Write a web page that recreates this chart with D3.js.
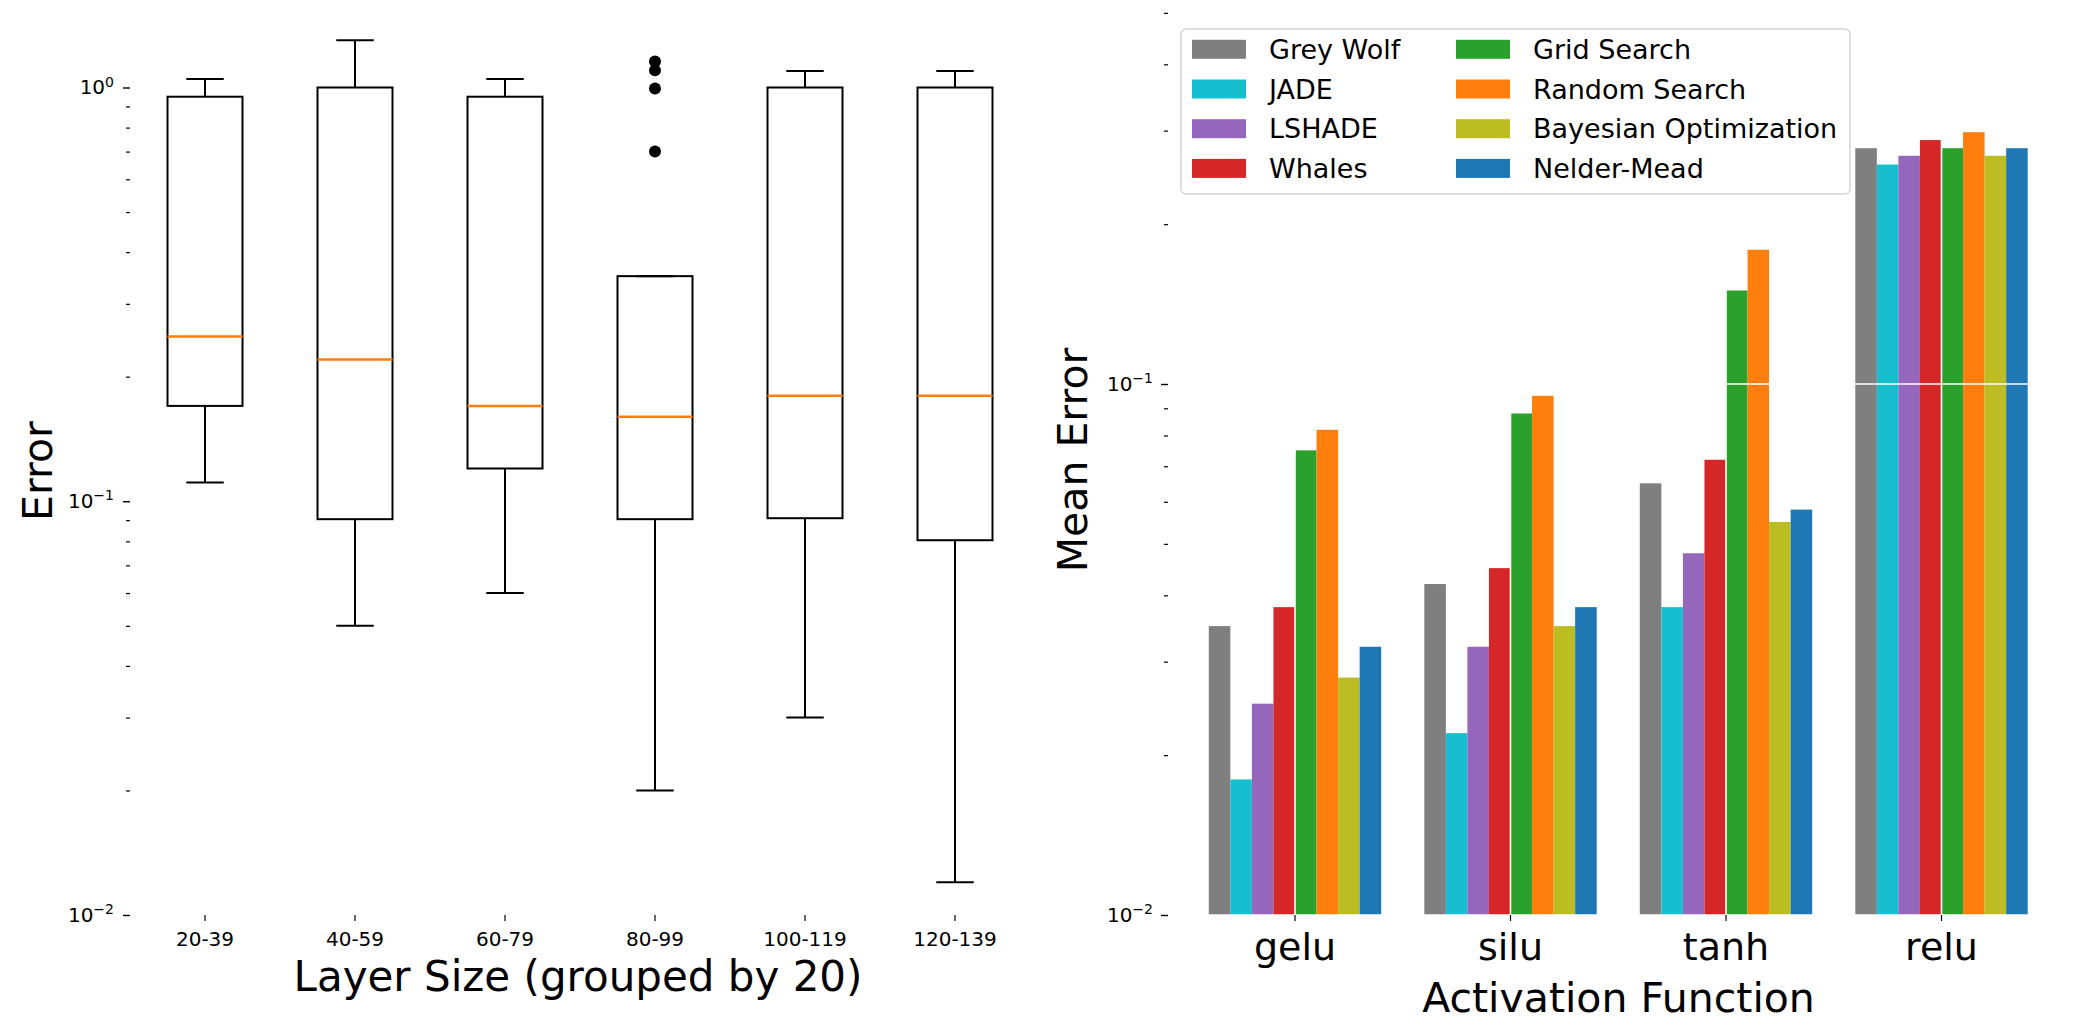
<!DOCTYPE html>
<html>
<head>
<meta charset="utf-8">
<script src="https://cdn.jsdelivr.net/npm/d3@7"></script>
<style>
  body { margin: 0; background: #fff; }
  text { font-family: "DejaVu Sans", sans-serif; fill: #000; }
</style>
</head>
<body>
<svg id="chart" width="2084" height="1035"></svg>
<script>
// ---------- left: error by layer size (box plot stats) ----------
const layerGroups = ["20-39", "40-59", "60-79", "80-99", "100-119", "120-139"];
const whiskerLow  = [0.111, 0.050, 0.060, 0.020, 0.030, 0.012];
const quart1      = [0.170, 0.0905, 0.120, 0.0905, 0.091, 0.0805];
const medians     = [0.250, 0.220, 0.170, 0.160, 0.180, 0.180];
const quart3      = [0.950, 1.000, 0.950, 0.350, 1.000, 1.000];
const whiskerHigh = [1.048, 1.300, 1.048, 0.350, 1.096, 1.096];
const fliers      = [[], [], [], [1.155, 1.10, 0.995, 0.70], [], []];

// ---------- right: mean error by activation ----------
const activations = ["gelu", "silu", "tanh", "relu"];
const methods = ["Grey Wolf", "JADE", "LSHADE", "Whales", "Grid Search",
                 "Random Search", "Bayesian Optimization", "Nelder-Mead"];
const methodColors = ["#7f7f7f", "#17becf", "#9467bd", "#d62728",
                      "#2ca02c", "#ff7f0e", "#bcbd22", "#1f77b4"];
// values per method, in activation order
const greyWolf     = [0.035, 0.042, 0.065, 0.278];
const jade         = [0.018, 0.022, 0.038, 0.259];
const lshade       = [0.025, 0.032, 0.048, 0.269];
const whales       = [0.038, 0.045, 0.072, 0.288];
const gridSearch   = [0.075, 0.088, 0.150, 0.278];
const randomSearch = [0.082, 0.095, 0.179, 0.298];
const bayesOpt     = [0.028, 0.035, 0.055, 0.269];
const nelderMead   = [0.032, 0.038, 0.058, 0.278];
const methodValues = [greyWolf, jade, lshade, whales, gridSearch, randomSearch, bayesOpt, nelderMead];

const svg = d3.select("#chart");

// superscript labels like matplotlib's 10^{-1}
function powLabel(sel) {
  sel.each(function (d) {
    const t = d3.select(this);
    const e = Math.round(Math.log10(d));
    t.text(null);
    t.append("tspan").text("10");
    t.append("tspan").attr("dy", "-0.55em").style("font-size", "14px")
      .text(e < 0 ? "\u2212" + (-e) : String(e));
  });
}
const minorVals = (lo, hi) => {
  let arr = [];
  for (let p = -2; p <= 0; p++)
    for (let m = 2; m <= 9; m++) {
      const v = m * Math.pow(10, p);
      if (v > lo && v < hi) arr.push(v);
    }
  return arr;
};

//++++++++++++++++++++++++++++++++++++++++++++++++++\\
//                 Box plot (left)                  \\
//++++++++++++++++++++++++++++++++++++++++++++++++++\\
{
  const left = 130, right = 1030, bottom = 915;
  const x = d3.scaleBand().domain(layerGroups).range([left, right]);
  const y = d3.scaleLog().domain([0.01, 1]).range([bottom, 87.5]);
  const bw = x.bandwidth() * 0.5;
  const cx = d => x(d) + x.bandwidth() / 2;

  const g = svg.append("g");

  // y axis major
  const yAx = g.append("g").attr("transform", `translate(${left},0)`)
    .call(d3.axisLeft(y).tickValues([0.01, 0.1, 1]).tickSize(7).tickPadding(9));
  yAx.select(".domain").remove();
  yAx.selectAll("line").attr("stroke-width", 1.4);
  yAx.selectAll("text").style("font-size", "20px").call(powLabel);
  // minor
  const yMin = g.append("g").attr("transform", `translate(${left},0)`)
    .call(d3.axisLeft(y).tickValues(minorVals(0.01, 1)).tickSize(4).tickFormat(""));
  yMin.select(".domain").remove();
  yMin.selectAll("line").attr("stroke-width", 1.2);

  // x axis
  const xAx = g.append("g").attr("transform", `translate(0,${bottom})`)
    .call(d3.axisBottom(x).tickSize(6));
  xAx.select(".domain").remove();
  xAx.selectAll("line").attr("stroke-width", 1.2);
  xAx.selectAll("text").style("font-size", "20px").attr("y", 31).attr("dy", 0);

  const boxes = g.selectAll("g.box").data(layerGroups).enter().append("g").attr("class", "box");
  // whiskers
  boxes.append("line")
    .attr("x1", cx).attr("x2", cx)
    .attr("y1", (d, i) => y(quart1[i])).attr("y2", (d, i) => y(whiskerLow[i]));
  boxes.append("line")
    .attr("x1", cx).attr("x2", cx)
    .attr("y1", (d, i) => y(quart3[i])).attr("y2", (d, i) => y(whiskerHigh[i]));
  // caps
  boxes.append("line")
    .attr("x1", d => cx(d) - bw / 4).attr("x2", d => cx(d) + bw / 4)
    .attr("y1", (d, i) => y(whiskerLow[i])).attr("y2", (d, i) => y(whiskerLow[i]));
  boxes.append("line")
    .attr("x1", d => cx(d) - bw / 4).attr("x2", d => cx(d) + bw / 4)
    .attr("y1", (d, i) => y(whiskerHigh[i])).attr("y2", (d, i) => y(whiskerHigh[i]));
  boxes.selectAll("line").attr("stroke", "#000").attr("stroke-width", 2);
  // box
  boxes.append("rect")
    .attr("x", d => cx(d) - bw / 2).attr("width", bw)
    .attr("y", (d, i) => y(quart3[i]))
    .attr("height", (d, i) => y(quart1[i]) - y(quart3[i]))
    .attr("fill", "none").attr("stroke", "#000").attr("stroke-width", 2);
  // median
  boxes.append("line")
    .attr("x1", d => cx(d) - bw / 2).attr("x2", d => cx(d) + bw / 2)
    .attr("y1", (d, i) => y(medians[i])).attr("y2", (d, i) => y(medians[i]))
    .attr("stroke", "#ff7f0e").attr("stroke-width", 2.5);
  // outliers
  boxes.each(function (d, i) {
    d3.select(this).selectAll("circle").data(fliers[i]).enter().append("circle")
      .attr("cx", cx(d)).attr("cy", v => y(v)).attr("r", 6).attr("fill", "#000");
  });

  g.append("text").attr("transform", `translate(52,471) rotate(-90)`)
    .attr("text-anchor", "middle").style("font-size", "41px").text("Error");
  g.append("text").attr("x", (left + right) / 2 - 2).attr("y", 991)
    .attr("text-anchor", "middle").style("font-size", "42px").text("Layer Size (grouped by 20)");
}

//++++++++++++++++++++++++++++++++++++++++++++++++++\\
//                 Bar chart (right)                \\
//++++++++++++++++++++++++++++++++++++++++++++++++++\\
{
  const left = 1168, right = 2069, bottom = 915;
  const x0 = d3.scaleBand().domain(activations).range([1187.25, 2049.25]);
  const x1 = d3.scaleBand().domain(methods).range([0, x0.bandwidth() * 0.8]);
  const y = d3.scaleLog().domain([0.01, 0.1]).range([bottom, 384]);
  const off = x0.bandwidth() * 0.1;

  const g = svg.append("g");

  const rows = [];
  activations.forEach((a, ai) => methods.forEach((m, mi) =>
    rows.push({ act: a, method: m, color: methodColors[mi], value: methodValues[mi][ai] })));

  g.selectAll("rect.bar").data(rows).enter().append("rect").attr("class", "bar")
    .attr("x", d => x0(d.act) + off + x1(d.method))
    .attr("width", x1.bandwidth())
    .attr("y", d => y(d.value))
    .attr("height", d => bottom - y(d.value))
    .attr("fill", d => d.color);

  // white grid on top of the bars
  g.selectAll("line.hgrid").data([0.01, 0.1]).enter().append("line")
    .attr("x1", left).attr("x2", right).attr("y1", d => y(d)).attr("y2", d => y(d))
    .attr("stroke", "#fff").attr("stroke-width", 1.6);
  g.selectAll("line.vgrid").data(activations).enter().append("line")
    .attr("x1", d => x0(d) + x0.bandwidth() / 2).attr("x2", d => x0(d) + x0.bandwidth() / 2)
    .attr("y1", 0).attr("y2", bottom)
    .attr("stroke", "#fff").attr("stroke-width", 1.6);

  const yAx = g.append("g").attr("transform", `translate(${left},0)`)
    .call(d3.axisLeft(y).tickValues([0.01, 0.1]).tickSize(7).tickPadding(8));
  yAx.select(".domain").remove();
  yAx.selectAll("line").attr("stroke-width", 1.4);
  yAx.selectAll("text").style("font-size", "20px").call(powLabel);
  const yMin = g.append("g").attr("transform", `translate(${left},0)`)
    .call(d3.axisLeft(y).tickValues(minorVals(0.01, 0.52)).tickSize(4).tickFormat(""));
  yMin.select(".domain").remove();
  yMin.selectAll("line").attr("stroke-width", 1.2);

  const xAx = g.append("g").attr("transform", `translate(0,${bottom})`)
    .call(d3.axisBottom(x0).tickSize(6));
  xAx.select(".domain").remove();
  xAx.selectAll("line").attr("stroke-width", 1.2);
  xAx.selectAll("text").style("font-size", "38px").attr("y", 45).attr("dy", 0);

  g.append("text").attr("transform", `translate(1087,460) rotate(-90)`)
    .attr("text-anchor", "middle").style("font-size", "41px").text("Mean Error");
  g.append("text").attr("x", (left + right) / 2).attr("y", 1012)
    .attr("text-anchor", "middle").style("font-size", "41px").text("Activation Function");

  // legend
  const lg = g.append("g");
  lg.append("rect").attr("x", 1181).attr("y", 29).attr("width", 669).attr("height", 165)
    .attr("rx", 5).attr("fill", "#fff").attr("fill-opacity", 0.8)
    .attr("stroke", "#d4d4d4").attr("stroke-width", 1.5);
  const items = lg.selectAll("g.item").data(methods).enter().append("g")
    .attr("transform", (d, i) => `translate(${i < 4 ? 1192 : 1456},${49.3 + (i % 4) * 39.7})`);
  items.append("rect").attr("x", 0).attr("y", -9.5).attr("width", 54).attr("height", 19)
    .attr("fill", (d, i) => methodColors[i]);
  items.append("text").attr("x", 77).attr("dy", "0.36em").style("font-size", "27px").text(d => d);
}
</script>
</body>
</html>
